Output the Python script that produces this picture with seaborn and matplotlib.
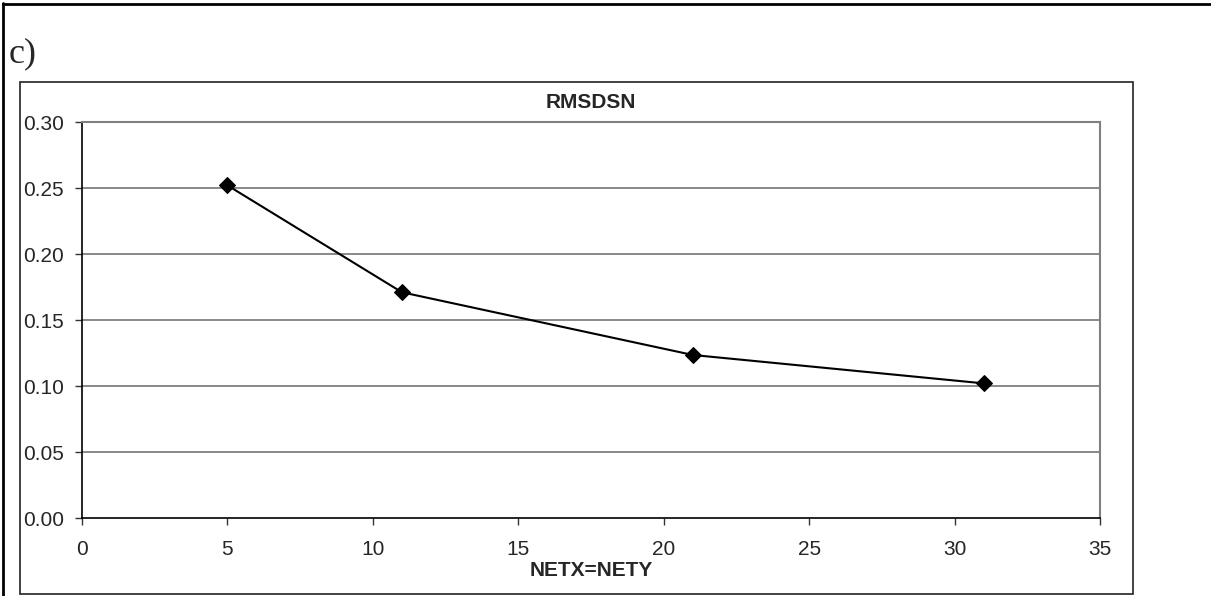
import pandas as pd
import seaborn as sns
import matplotlib.pyplot as plt
from matplotlib.patches import Rectangle
from matplotlib.lines import Line2D

# grid size vs RMSDSN
netx = [5, 11, 21, 31]
rmsdsn = [0.252, 0.171, 0.1235, 0.102]
xticks = [0, 5, 10, 15, 20, 25, 30, 35]
yticks = [0.00, 0.05, 0.10, 0.15, 0.20, 0.25, 0.30]

sns.set_style("white")
plt.rcParams["font.family"] = ["Liberation Sans", "DejaVu Sans"]

W, H = 1211, 596
fig = plt.figure(figsize=(W / 100, H / 100), dpi=100)
ax = fig.add_axes([82 / W, (H - 518) / H, 1018 / W, 396 / H])

df = pd.DataFrame({"NETX=NETY": netx, "RMSDSN": rmsdsn})
sns.lineplot(data=df, x="NETX=NETY", y="RMSDSN", ax=ax, color="black",
             marker="D", markersize=8, linewidth=1.5, markeredgecolor="black")

ax.set_xlim(0, 35)
ax.set_ylim(0, 0.30)
ax.set_xticks(xticks)
ax.set_yticks(yticks)
ax.set_yticklabels([f"{v:.2f}" for v in yticks])
ax.tick_params(axis="both", labelsize=15, length=5, width=1, color="#333333",
               direction="out", left=True, bottom=True)
ax.tick_params(axis="y", pad=8)
ax.tick_params(axis="x", pad=11)

ax.grid(False)
for v in yticks[1:-1]:
    ax.axhline(v, color="#808080", linewidth=1.3, zorder=0)
for side in ["top", "right"]:
    ax.spines[side].set_color("#808080")
    ax.spines[side].set_linewidth(1.5)
for side in ["left", "bottom"]:
    ax.spines[side].set_color("black")
    ax.spines[side].set_linewidth(1.2)

ax.set_title("RMSDSN", fontsize=15, fontweight="bold", pad=10)
ax.set_xlabel("NETX=NETY", fontsize=15, fontweight="bold")
ax.xaxis.set_label_coords(0.5, -(571 - 518) / 396)
ax.xaxis.label.set_va("center")
ax.set_ylabel("")

# chart frame and page frame
fig.patches.append(Rectangle((20 / W, (H - 594) / H), 1113 / W, 512 / H,
                             transform=fig.transFigure, fill=False,
                             edgecolor="#222222", linewidth=1.2))
fig.lines.append(Line2D([3 / W, 3 / W], [0, (H - 3) / H], transform=fig.transFigure,
                        color="black", linewidth=2))
fig.lines.append(Line2D([3 / W, 1], [(H - 3.5) / H, (H - 3.5) / H],
                        transform=fig.transFigure, color="black", linewidth=2))
fig.text(9 / W, (H - 62) / H, "c)", fontsize=26, family=["Liberation Serif", "DejaVu Serif"],
         va="baseline", ha="left")

fig.savefig("out.png", dpi=100)
